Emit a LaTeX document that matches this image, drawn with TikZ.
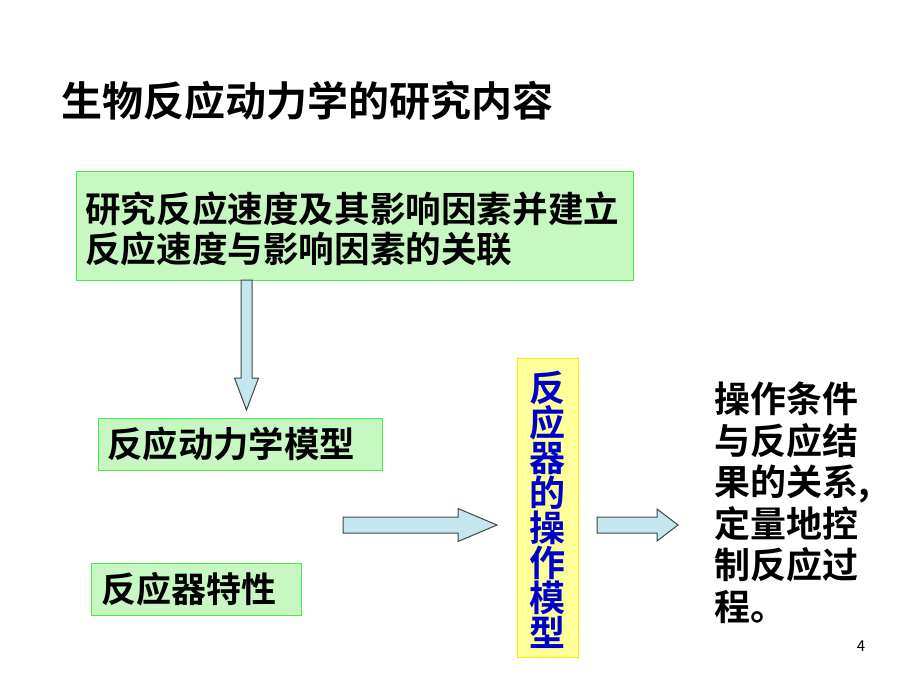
\documentclass[tikz,border=0pt]{standalone}
\usepackage{fontspec}
\setmainfont{Noto Sans CJK SC}[BoldFont={Noto Sans CJK SC Bold}]
\usetikzlibrary{calc}
\definecolor{gfill}{HTML}{C8F8C2}
\definecolor{gline}{HTML}{44EE44}
\definecolor{yfill}{HTML}{FFFF99}
\definecolor{yline}{HTML}{F0F000}
\definecolor{afill}{HTML}{C4E6EE}
\definecolor{aline}{HTML}{404848}
\definecolor{vblue}{HTML}{0000CC}
\tikzset{
  greenbox/.style={draw=gline, fill=gfill, line width=1.2pt, rectangle, inner sep=0pt, anchor=north west},
  yellowbox/.style={draw=yline, fill=yfill, line width=1.2pt, rectangle, inner sep=0pt, anchor=north west},
  blockarrow/.style={draw=aline, fill=afill, line width=1pt, line join=miter},
  plain/.style={inner sep=0pt, font=\bfseries}
}
\newcommand\barrow[5]{% from, to, shaft half width, head half width, head length
  \draw[blockarrow] ($(#1)!#3!90:(#2)$) -- ($($(#2)!#5!(#1)$)!#3!90:(#2)$)
     -- ($($(#2)!#5!(#1)$)!#4!90:(#2)$) -- (#2)
     -- ($($(#2)!#5!(#1)$)!#4!-90:(#2)$) -- ($($(#2)!#5!(#1)$)!#3!-90:(#2)$)
     -- ($(#1)!#3!-90:(#2)$) -- cycle;}
\begin{document}
\begin{tikzpicture}[x=1pt,y=-1pt]
\useasboundingbox[fill=white] (0,0) rectangle (920,690);
% title
\node[plain, anchor=west, font=\bfseries\fontsize{41}{41}\selectfont] (title) at (61,101) {生物反应动力学的研究内容};
% green box 1
\node[greenbox, minimum width=557pt, minimum height=109pt] (box1) at (76,171) {};
\node[plain, anchor=west, align=left, font=\bfseries\fontsize{35.6}{40}\selectfont] (t1) at (85,229) {研究反应速度及其影响因素并建立\\反应速度与影响因素的关联};
% box 2
\node[greenbox, minimum width=284pt, minimum height=52pt] (box2) at (97.5,417.5) {};
\node[plain, anchor=west, font=\bfseries\fontsize{35.4}{40}\selectfont] (t2) at (107,444) {反应动力学模型};
% box 3
\node[greenbox, minimum width=210pt, minimum height=52pt] (box3) at (90.5,562.5) {};
\node[plain, anchor=west, font=\bfseries\fontsize{35}{40}\selectfont] (t3) at (101,589) {反应器特性};
% yellow box
\node[yellowbox, minimum width=61pt, minimum height=299pt] (ybox) at (517,358) {};
\node[plain, anchor=north, align=center, text=vblue, font=\bfseries\fontsize{36}{35}\selectfont] (yt) at (547.5,371) {反\\应\\器\\的\\操\\作\\模\\型};
% right text
\node[plain, anchor=north west, align=left, font=\bfseries\fontsize{36}{41.5}\selectfont] (rt) at (714,382) {操作条件\\与反应结\\果的关系,\\定量地控\\制反应过\\程。};
% page number
\node[inner sep=0pt, font=\fontsize{15}{15}\selectfont] (pg) at (861,646) {4};
% arrows
\coordinate (d0) at (246.5,280);
\coordinate (d1) at (246.5,410);
\barrow{d0}{d1}{5.5pt}{12pt}{32pt}
\coordinate (r0) at (343,525);
\coordinate (r1) at (497,525);
\barrow{r0}{r1}{8pt}{16.5pt}{39pt}
\coordinate (s0) at (597,525);
\coordinate (s1) at (678,525);
\barrow{s0}{s1}{8pt}{16pt}{21pt}
\end{tikzpicture}
\end{document}
